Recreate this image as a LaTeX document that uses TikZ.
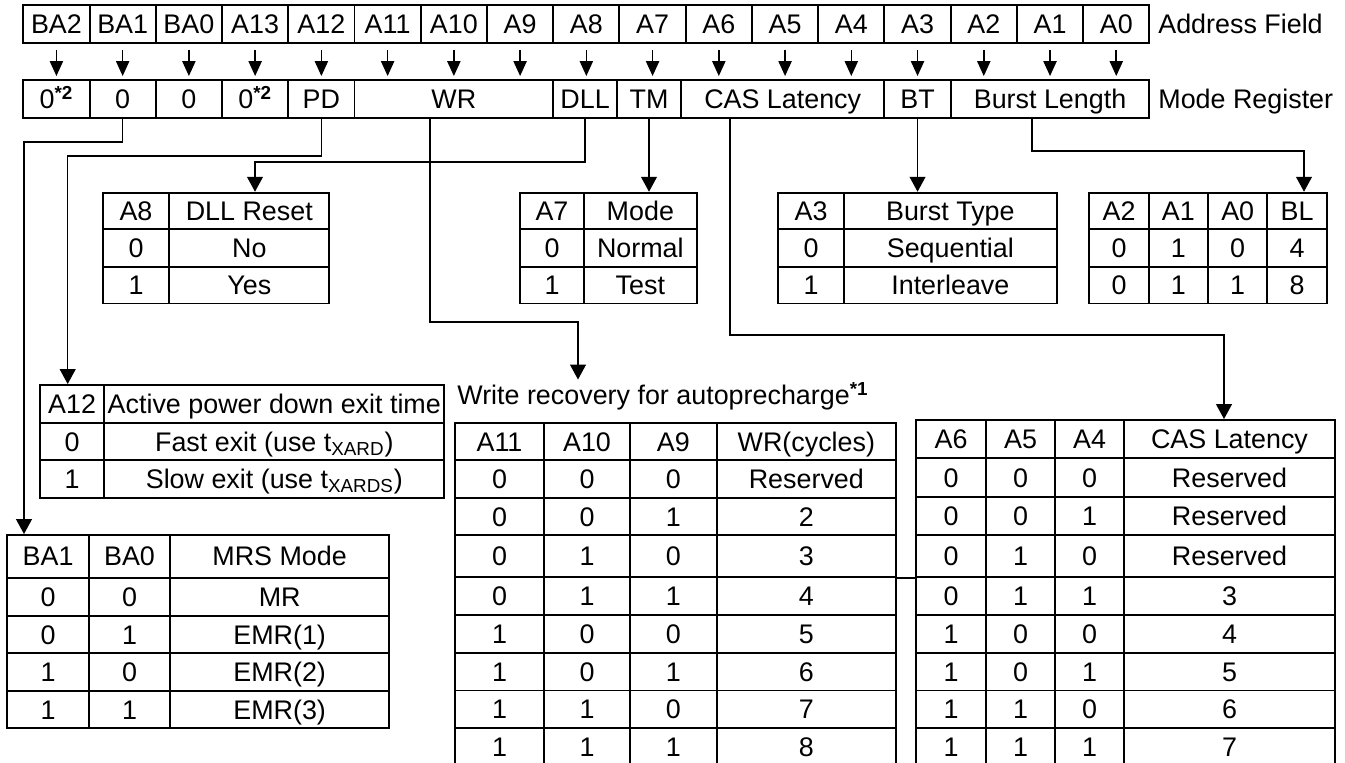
\documentclass[tikz,border=0pt]{standalone}
\usepackage{fontspec}
\setmainfont{Liberation Sans}
\usetikzlibrary{arrows.meta}

\newcommand\mktable[4]{%
  \foreach \row [count=\r from 0] in {#4} {
    \foreach \txt [count=\c from 0] in \row {
      \pgfmathsetmacro\xa{{#2}[\c]}\pgfmathsetmacro\xb{{#2}[\c+1]}%
      \pgfmathsetmacro\ya{{#3}[\r]}\pgfmathsetmacro\yb{{#3}[\r+1]}%
      \node[cell,minimum width=(\xb-\xa)*0.02cm,minimum height=(\yb-\ya)*0.02cm]
        (#1-\r-\c) at ({(\xa+\xb)/2},{(\ya+\yb)/2}) {\txt};
    }}}

\begin{document}
\begin{tikzpicture}[x=0.02cm,y=-0.02cm,
  every node/.style={font=\fontsize{15.3}{18}\selectfont,inner sep=0pt,text height=14pt,text depth=3.2pt},
  cell/.style={draw,line width=1.1pt},
  wire/.style={line width=0.9pt},
  tick/.style={wire,-{Triangle[width=7.5pt,length=8.5pt]},shorten <=0.12cm,shorten >=0.06cm},
  pin/.style={wire,-{Triangle[width=9pt,length=8.5pt]}}]
  \useasboundingbox (0,0) rectangle (1345,762);
  \clip (0,0) rectangle (1345,762);

  \foreach \txt [count=\i from 0] in {BA2,BA1,BA0,A13,A12,A11,A10,A9,A8,A7,A6,A5,A4,A3,A2,A1,A0}
    \node[cell,minimum width=1.3248cm,minimum height=0.76cm] (ad\i) at ({23.3+66.24*(\i+0.5)},24) {\txt};
  \node[anchor=west] (afl) at (1158,24) {Address Field};

  \foreach \xl/\xr/\txt/\nm in {23.3/89.54/{0\textsuperscript{\bfseries*2}}/mba2,89.54/155.78/0/mba1,
      155.78/222.02/0/mba0,222.02/288.26/{0\textsuperscript{\bfseries*2}}/ma13,288.26/354.5/PD/mpd,
      354.5/553.22/WR/mwr,553.22/617/DLL/mdll,617/681/TM/mtm,681/884.42/CAS Latency/mcas,
      884.42/950.66/BT/mbt,950.66/1149.38/Burst Length/mbl}
    \node[cell,minimum width=(\xr-\xl)*0.02cm,minimum height=0.76cm] (\nm) at ({(\xl+\xr)/2},99) {\txt};
  \node[anchor=west] (mrl) at (1158,99) {Mode Register};

  \foreach \i in {0,...,16}
    \draw[tick] (ad\i.south) -- (ad\i.south |- mba2.north);

  \mktable{dl}{102.7,169.3,329.3}{192.7,229,266.7,303.5}{{A8,DLL Reset},{0,No},{1,Yes}}
  \mktable{tm}{520,584,696.7}{192.7,229,266.7,303.5}{{A7,Mode},{0,Normal},{1,Test}}
  \mktable{bt}{778.3,844,1056.7}{192.7,229,266.7,303.5}{{A3,Burst Type},{0,Sequential},{1,Interleave}}
  \mktable{bl}{1089.3,1148.7,1208,1267.4,1326.7}{192.7,229,266.7,303.5}{{A2,A1,A0,BL},{0,1,0,4},{0,1,1,8}}
  \mktable{pd}{40,104.3,444.3}{385,423.3,460,497.7}{{A12,Active power down exit time},
    {0,Fast exit (use t\textsubscript{XARD})},{1,Slow exit (use t\textsubscript{XARDS})}}
  \mktable{ms}{7.3,89,170,389.3}{535,577.7,616,653.3,691,728}{{BA1,BA0,MRS Mode},{0,0,MR},
    {0,1,EMR(1)},{1,0,EMR(2)},{1,1,EMR(3)}}
  \mktable{wr}{455,544,630,716.7,896}{423,460,498,535,577,615,653,690.5,728,766}{{A11,A10,A9,WR(cycles)},
    {0,0,0,Reserved},{0,0,1,2},{0,1,0,3},{0,1,1,4},{1,0,0,5},{1,0,1,6},{1,1,0,7},{1,1,1,8}}
  \mktable{cl}{916,986,1055,1124,1335}{420,458,497,535,577,615,653,690.5,728,766}{{A6,A5,A4,CAS Latency},
    {0,0,0,Reserved},{0,0,1,Reserved},{0,1,0,Reserved},{0,1,1,3},{1,0,0,4},{1,0,1,5},{1,1,0,6},{1,1,1,7}}
  \draw[line width=1.1pt] (wr-3-3.south east) -- (cl-3-0.south west);
  \node[anchor=west] (wrt) at (457,395) {Write recovery for autoprecharge\textsuperscript{\bfseries*1}};

  \coordinate (bajoin) at (24,142);
  \coordinate (pdjoin) at (67.7,156);
  \coordinate (dlljoin) at (255,162);
  \coordinate (wrjoin) at (430,322);
  \coordinate (wrdrop) at (578,322);
  \coordinate (casjoin) at (730,335);
  \coordinate (casdrop) at (1224,335);
  \coordinate (bljoin) at (1032,151);
  \coordinate (bldrop) at (1304,151);

  \draw[pin] (mba1.south) |- (bajoin) -- (bajoin |- ms-0-0.north);
  \draw[pin] (mpd.south) |- (pdjoin) -- (pdjoin |- pd-0-0.north);
  \draw[pin] (mdll.south) |- (dlljoin) -- (dlljoin |- dl-0-1.north);
  \draw[pin] (mtm.south) -- (mtm.south |- tm-0-1.north);
  \draw[pin] (mwr.south -| wrjoin) -- (wrjoin) -- (wrdrop) -- (wrdrop |- wrt.north);
  \draw[pin] (mcas.south -| casjoin) -- (casjoin) -- (casdrop) -- (casdrop |- cl-0-3.north);
  \draw[pin] (mbt.south) -- (mbt.south |- bt-0-1.north);
  \draw[pin] (mbl.south -| bljoin) -- (bljoin) -- (bldrop) -- (bldrop |- bl-0-3.north);
\end{tikzpicture}
\end{document}
